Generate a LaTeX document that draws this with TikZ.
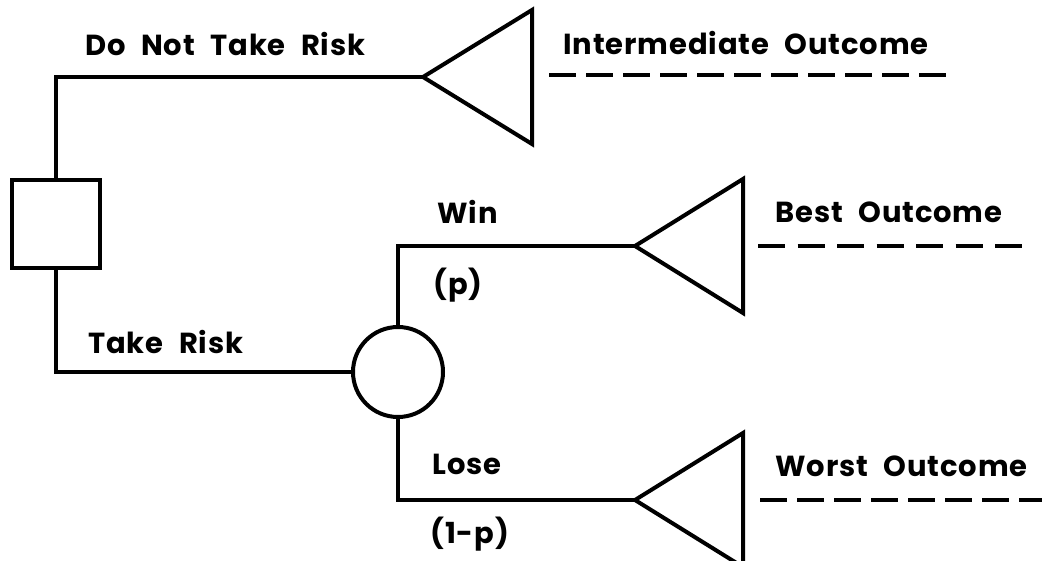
\documentclass[tikz,border=0pt]{standalone}
\usepackage{fontspec}
\setmainfont{Poppins}[LetterSpace=3, WordSpace=2.2]
\begin{document}
\begin{tikzpicture}[x=0.5pt,y=-0.5pt,
  line/.style={line width=2pt, line join=miter},
  dash line/.style={line width=2pt, dash pattern=on 13.5pt off 5pt},
  lbl/.style={anchor=west, inner sep=0pt, font=\fontsize{14.5}{15}\selectfont\bfseries},
  decision/.style={draw, line width=2pt, rectangle, minimum size=44pt, inner sep=0pt},
  chance/.style={draw, line width=2pt, circle, minimum size=45pt, inner sep=0pt}]
\useasboundingbox (0,0) rectangle (1042,561);
% nodes
\node[decision] (sq) at (56,224) {};
\node[chance] (ch) at (398,372) {};
\coordinate (t1) at (423,77);
\coordinate (t2) at (635,246);
\coordinate (t3) at (635,500);
% terminal triangles
\draw[line] (t1) -- ++(109,-67) -- ++(0,134) -- cycle;
\draw[line] (t2) -- ++(108,-67) -- ++(0,134) -- cycle;
\draw[line] (t3) -- ++(108,-67) -- ++(0,134) -- cycle;
% connectors
\draw[line] (sq.north) |- (t1);
\draw[line] (sq.south) |- (ch.west);
\draw[line] (ch.north) |- (t2);
\draw[line] (ch.south) |- (t3);
% dashed outcome lines
\coordinate (d1a) at (549,75); \coordinate (d1b) at (947,75);
\coordinate (d2a) at (758,246); \coordinate (d2b) at (1022,246);
\coordinate (d3a) at (760,500); \coordinate (d3b) at (1042,500);
\draw[dash line] (d1a) -- (d1b);
\draw[dash line, dash pattern=on 13.5pt off 6.25pt] (d2a) -- (d2b);
\draw[dash line] (d3a) -- (d3b);
% labels
\node[lbl] (l1) at (85,44) {Do Not Take Risk};
\node[lbl] (l2) at (563,43) {Intermediate Outcome};
\node[lbl] (l3) at (88,342) {Take Risk};
\node[lbl] (l4) at (437,212) {Win};
\node[lbl] (l5) at (433,285) {(p)};
\node[lbl] (l6) at (432,464) {Lose};
\node[lbl] (l7) at (430,534) {(1-p)};
\node[lbl] (l8) at (775,212) {Best Outcome};
\node[lbl] (l9) at (775,466) {Worst Outcome};
\end{tikzpicture}
\end{document}
